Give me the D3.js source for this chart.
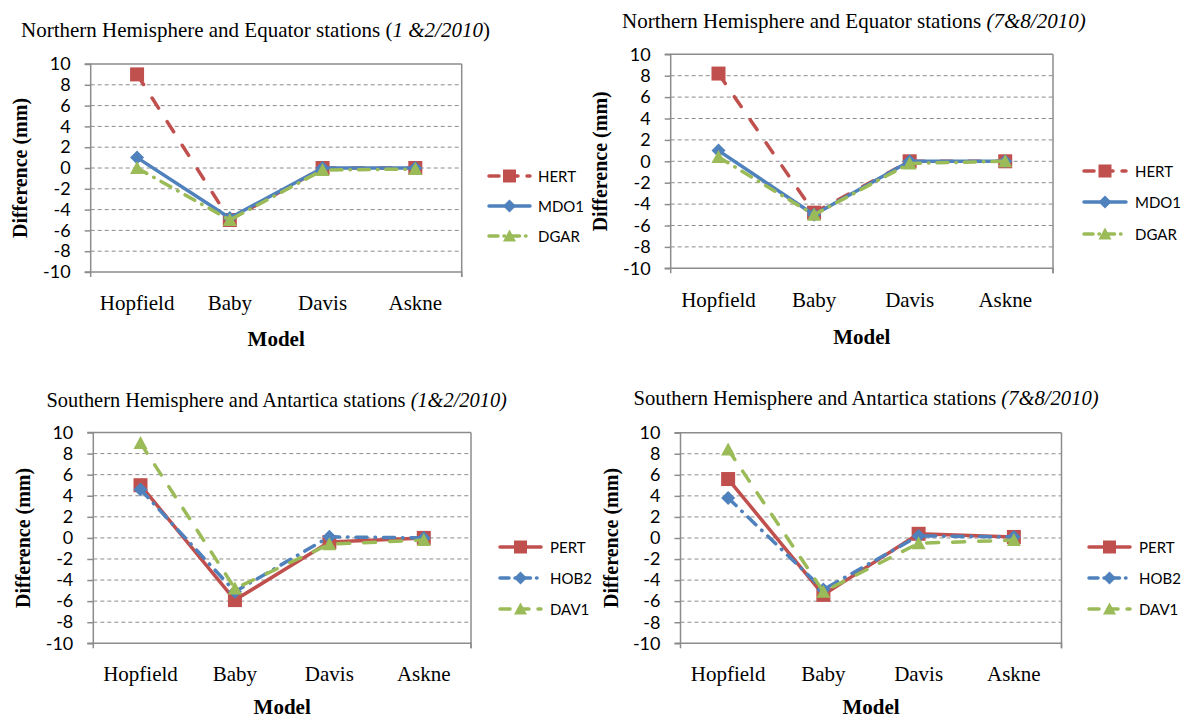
<!DOCTYPE html>
<html>
<head>
<meta charset="utf-8">
<script src="https://cdn.jsdelivr.net/npm/d3@7"></script>
<style>
  body { margin: 0; background: #fff; }
  svg { display: block; }
</style>
</head>
<body>
<div id="chart"></div>
<script>
// categories and y ticks shared by all four charts
const categories = ["Hopfield", "Baby", "Davis", "Askne"];
const yTickValues = [10, 8, 6, 4, 2, 0, -2, -4, -6, -8, -10];

// Northern Hemisphere and Equator, 1&2/2010
const hertJan = [9, -5, 0, 0];
const mdo1Jan = [1, -4.8, 0, 0];
const dgarJan = [0, -5, -0.2, -0.1];
// Northern Hemisphere and Equator, 7&8/2010
const hertJul = [8.2, -4.8, 0, 0];
const mdo1Jul = [1, -5, 0, 0];
const dgarJul = [0.4, -5, -0.2, 0];
// Southern Hemisphere and Antartica, 1&2/2010
const pertJan = [5, -5.9, -0.4, 0];
const hob2Jan = [4.6, -5.1, 0.1, 0];
const dav1Jan = [9, -4.8, -0.6, -0.2];
// Southern Hemisphere and Antartica, 7&8/2010
const pertJul = [5.6, -5.4, 0.4, 0.1];
const hob2Jul = [3.8, -4.9, 0.2, 0.1];
const dav1Jul = [8.4, -5.1, -0.5, -0.2];

const RED = "#C0504D", BLUE = "#4F81BD", GREEN = "#9BBB59";
const styles = {
  HERT: {color: RED, dash: "12,16", legDash: "10,9", marker: "square"},
  MDO1: {color: BLUE, dash: null, legDash: null, marker: "diamond"},
  DGAR: {color: GREEN, dash: "11,8,0.5,8", legDash: "9,6,0.5,6", marker: "triangle"},
  PERT: {color: RED, dash: null, legDash: null, marker: "square"},
  HOB2: {color: BLUE, dash: "11,8,0.5,8", legDash: "9,6,0.5,6", marker: "diamond"},
  DAV1: {color: GREEN, dash: "12,14", legDash: "10,9", marker: "triangle"}
};

const panels = [
  {
    title: ["Northern Hemisphere and Equator stations (", "1 &2/2010", ")"],
    titleX: 21, titleY: 30, titleSize: 21,
    plot: {l: 90.7, r: 461.7, t: 64, b: 272},
    yTitleX: 20, catY: 303, modelY: 339,
    series: [["HERT", hertJan], ["MDO1", mdo1Jan], ["DGAR", dgarJan]],
    legend: {x1: 489, x2: 530, tx: 538, ys: [176, 206, 236]}
  },
  {
    title: ["Northern Hemisphere and Equator stations ", "(7&8/2010)", ""],
    titleX: 622, titleY: 21, titleSize: 21,
    plot: {l: 670.7, r: 1053, t: 54.3, b: 268.3},
    yTitleX: 600, catY: 300, modelY: 337,
    series: [["HERT", hertJul], ["MDO1", mdo1Jul], ["DGAR", dgarJul]],
    legend: {x1: 1084, x2: 1126, tx: 1135, ys: [171, 202, 234]}
  },
  {
    title: ["Southern Hemisphere and Antartica stations ", "(1&2/2010)", ""],
    titleX: 46.5, titleY: 400, titleSize: 20.4,
    plot: {l: 93.3, r: 471, t: 432.5, b: 643.3},
    yTitleX: 23, catY: 674, modelY: 707,
    series: [["PERT", pertJan], ["HOB2", hob2Jan], ["DAV1", dav1Jan]],
    legend: {x1: 500, x2: 541, tx: 550, ys: [547, 578, 609]}
  },
  {
    title: ["Southern Hemisphere and Antartica stations ", "(7&8/2010)", ""],
    titleX: 633.6, titleY: 398, titleSize: 20.6,
    plot: {l: 680.5, r: 1061.5, t: 432.7, b: 643.3},
    yTitleX: 611, catY: 674, modelY: 707,
    series: [["PERT", pertJul], ["HOB2", hob2Jul], ["DAV1", dav1Jul]],
    legend: {x1: 1089, x2: 1130, tx: 1139, ys: [547, 578, 609]}
  }
];

const svg = d3.select("#chart").append("svg")
  .attr("width", 1181).attr("height", 719);

function drawMarker(g, type, x, y, size, color) {
  if (type === "square") {
    g.append("rect").attr("x", x - size / 2).attr("y", y - size / 2)
      .attr("width", size).attr("height", size).attr("fill", color);
  } else if (type === "diamond") {
    const h = size / 2;
    g.append("path").attr("d", `M${x},${y - h}L${x + h},${y}L${x},${y + h}L${x - h},${y}Z`)
      .attr("fill", color);
  } else {
    const h = size / 2;
    g.append("path").attr("d", `M${x},${y - h}L${x + h},${y + h * 0.85}L${x - h},${y + h * 0.85}Z`)
      .attr("fill", color);
  }
}

panels.forEach(p => {
  const g = svg.append("g");
  const x = d3.scaleBand().domain(categories).range([p.plot.l, p.plot.r]);
  const y = d3.scaleLinear().domain([-10, 10]).range([p.plot.b, p.plot.t]);
  const cx = c => x(c) + x.bandwidth() / 2;

  // title
  const t = g.append("text")
    .attr("x", p.titleX).attr("y", p.titleY)
    .attr("dominant-baseline", "central")
    .style("font-family", "'Liberation Serif', serif")
    .style("font-size", p.titleSize + "px").attr("fill", "#000");
  t.append("tspan").text(p.title[0]);
  t.append("tspan").style("font-style", "italic").text(p.title[1]);
  t.append("tspan").text(p.title[2]);

  // gridlines
  g.selectAll(".grid").data(yTickValues.filter(v => v !== 10 && v !== -10)).enter()
    .append("line")
    .attr("x1", p.plot.l).attr("x2", p.plot.r)
    .attr("y1", d => y(d)).attr("y2", d => y(d))
    .attr("stroke", "#8c8c8c").attr("stroke-width", 1)
    .attr("stroke-dasharray", "4,3");

  // frame top and right
  g.append("line").attr("x1", p.plot.l).attr("x2", p.plot.r)
    .attr("y1", p.plot.t).attr("y2", p.plot.t)
    .attr("stroke", "#8c8c8c").attr("stroke-width", 1.5);
  g.append("line").attr("x1", p.plot.r).attr("x2", p.plot.r)
    .attr("y1", p.plot.t).attr("y2", p.plot.b + 5)
    .attr("stroke", "#8c8c8c").attr("stroke-width", 1.5);

  // y axis
  const yAxis = d3.axisLeft(y).tickValues(yTickValues).tickSize(6).tickPadding(14)
    .tickFormat(d3.format("d"));
  const ya = g.append("g").attr("transform", `translate(${p.plot.l},0)`).call(yAxis);
  ya.select(".domain").attr("stroke", "#8c8c8c").attr("stroke-width", 1.5)
    .attr("d", `M-6,${p.plot.t}H0V${p.plot.b}H-6`);
  ya.selectAll(".tick line").attr("stroke", "#8c8c8c").attr("stroke-width", 1.5);
  ya.selectAll(".tick text")
    .style("font-family", "Lato, 'Liberation Sans', sans-serif")
    .style("font-size", "18px").attr("fill", "#000")
    .text(d => d < 0 ? "-" + Math.abs(d) : d);

  // x axis
  const xAxis = d3.axisBottom(x).tickSize(0).tickFormat("");
  const xa = g.append("g").attr("transform", `translate(0,${p.plot.b})`).call(xAxis);
  xa.select(".domain").attr("stroke", "#8c8c8c").attr("stroke-width", 1.5)
    .attr("d", `M${p.plot.l},5V0H${p.plot.r}V5`);
  g.selectAll(".cat").data(categories).enter().append("text")
    .attr("x", d => cx(d)).attr("y", p.catY)
    .attr("text-anchor", "middle").attr("dominant-baseline", "central")
    .style("font-family", "'Liberation Serif', serif")
    .style("font-size", "21px").text(d => d);

  // axis titles
  g.append("text")
    .attr("x", (p.plot.l + p.plot.r) / 2).attr("y", p.modelY)
    .attr("text-anchor", "middle").attr("dominant-baseline", "central")
    .style("font-family", "'Liberation Serif', serif")
    .style("font-size", "21px").style("font-weight", "bold").text("Model");
  g.append("text")
    .attr("transform", `translate(${p.yTitleX},${(p.plot.t + p.plot.b) / 2}) rotate(-90)`)
    .attr("text-anchor", "middle").attr("dominant-baseline", "central")
    .style("font-family", "'Liberation Serif', serif")
    .style("font-size", "20px").style("font-weight", "bold").text("Difference (mm)");

  // series
  const line = d3.line().x((d, i) => cx(categories[i])).y(d => y(d));
  p.series.forEach(([name, vals], si) => {
    const st = styles[name];
    g.append("path").datum(vals).attr("d", line)
      .attr("fill", "none").attr("stroke", st.color).attr("stroke-width", 3.5)
      .attr("stroke-linecap", "round").attr("stroke-linejoin", "round")
      .attr("stroke-dasharray", st.dash);
    vals.forEach((v, i) => drawMarker(g, st.marker, cx(categories[i]), y(v), 14, st.color));

    // legend entry
    const ly = p.legend.ys[si];
    g.append("line").attr("x1", p.legend.x1).attr("x2", p.legend.x2)
      .attr("y1", ly).attr("y2", ly)
      .attr("stroke", st.color).attr("stroke-width", 3.5)
      .attr("stroke-linecap", "round")
      .attr("stroke-dasharray", st.legDash);
    drawMarker(g, st.marker, (p.legend.x1 + p.legend.x2) / 2, ly, 13, st.color);
    g.append("text").attr("x", p.legend.tx).attr("y", ly)
      .attr("dominant-baseline", "central")
      .style("font-family", "Lato, 'Liberation Sans', sans-serif")
      .style("font-size", "15px").text(name);
  });
});
</script>
</body>
</html>
